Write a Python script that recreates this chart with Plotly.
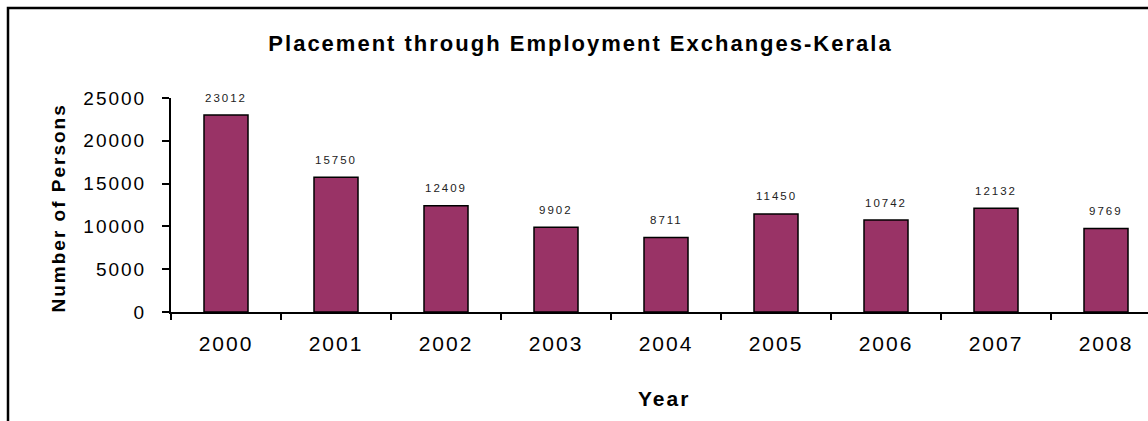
import plotly.graph_objects as go

# Placements through employment exchanges in Kerala, by year
years = ["2000", "2001", "2002", "2003", "2004", "2005", "2006", "2007", "2008"]
placements = [23012, 15750, 12409, 9902, 8711, 11450, 10742, 12132, 9769]
y_tick_values = [0, 5000, 10000, 15000, 20000, 25000]

W, H = 1148, 421
ML, MT, MB = 171, 98, 109
plot_w = W - ML
cat_w = 110  # pixels per category

FONT = "Liberation Sans, Arial, sans-serif"
BAR_COLOR = "#993366"

fig = go.Figure()
fig.add_trace(go.Bar(
    x=years,
    y=placements,
    width=0.4,
    marker=dict(color=BAR_COLOR, line=dict(color="black", width=1.5)),
    hoverinfo="x+y",
))

# value labels above each bar (category index as x position)
annotations = []
for i, v in enumerate(placements):
    annotations.append(dict(
        x=i, y=v, xref="x", yref="y", text=str(v), showarrow=False,
        yshift=17.5, yanchor="middle", xanchor="center",
        font=dict(family=FONT, size=11.5, color="#222222"),
    ))

plot_h = H - MT - MB
# y-axis title
annotations.append(dict(
    x=(58 - ML) / plot_w, y=(H - MB - 208.5) / plot_h, xref="paper", yref="paper",
    text="<b>Number of Persons</b>", textangle=-90, showarrow=False,
    xanchor="center", yanchor="middle",
    font=dict(family=FONT, size=19, color="black"),
))
# x-axis title
annotations.append(dict(
    x=(663.5 - ML) / plot_w, y=(H - MB - 398) / plot_h, xref="paper", yref="paper",
    text="<b>Year</b>", showarrow=False, xanchor="center", yanchor="middle",
    font=dict(family=FONT, size=21, color="black"),
))

# outer chart frame
shapes = [dict(
    type="rect", xref="paper", yref="paper",
    x0=(8 - ML) / plot_w, x1=1.1,
    y0=-0.8, y1=(H - MB - 8) / plot_h,
    line=dict(color="black", width=2.5), fillcolor="rgba(0,0,0,0)",
)]

fig.update_layout(
    width=W, height=H,
    margin=dict(l=ML, r=0, t=MT, b=MB, pad=0),
    paper_bgcolor="white", plot_bgcolor="white",
    showlegend=False,
    bargap=0.6,
    title=dict(
        text="<b>Placement through Employment Exchanges-Kerala</b>",
        x=580.5 / W, xref="container", xanchor="center",
        y=1 - 43 / H, yref="container", yanchor="middle",
        font=dict(family=FONT, size=22, color="black"),
    ),
    xaxis=dict(
        type="category",
        range=[-0.5, plot_w / cat_w - 0.5],
        tickson="boundaries",
        ticks="outside", ticklen=6, tickwidth=2, tickcolor="black",
        showline=True, linecolor="black", linewidth=2,
        showgrid=False, zeroline=False,
        tickfont=dict(family=FONT, size=21, color="black"),
        ticklabelstandoff=12,
    ),
    yaxis=dict(
        range=[0, 25000],
        tickvals=y_tick_values,
        ticktext=[str(v) for v in y_tick_values],
        ticks="outside", ticklen=7, tickwidth=2, tickcolor="black",
        showline=True, linecolor="black", linewidth=2,
        showgrid=False, zeroline=False,
        tickfont=dict(family=FONT, size=19, color="black"),
        ticklabelstandoff=12,
    ),
    annotations=annotations,
    shapes=shapes,
)

# slightly tracked lettering for all chart text
post = """
var s = document.createElement('style');
s.textContent = '.js-plotly-plot text { letter-spacing: 2px; }';
document.head.appendChild(s);
"""

fig.write_html("out.html", post_script=post)
